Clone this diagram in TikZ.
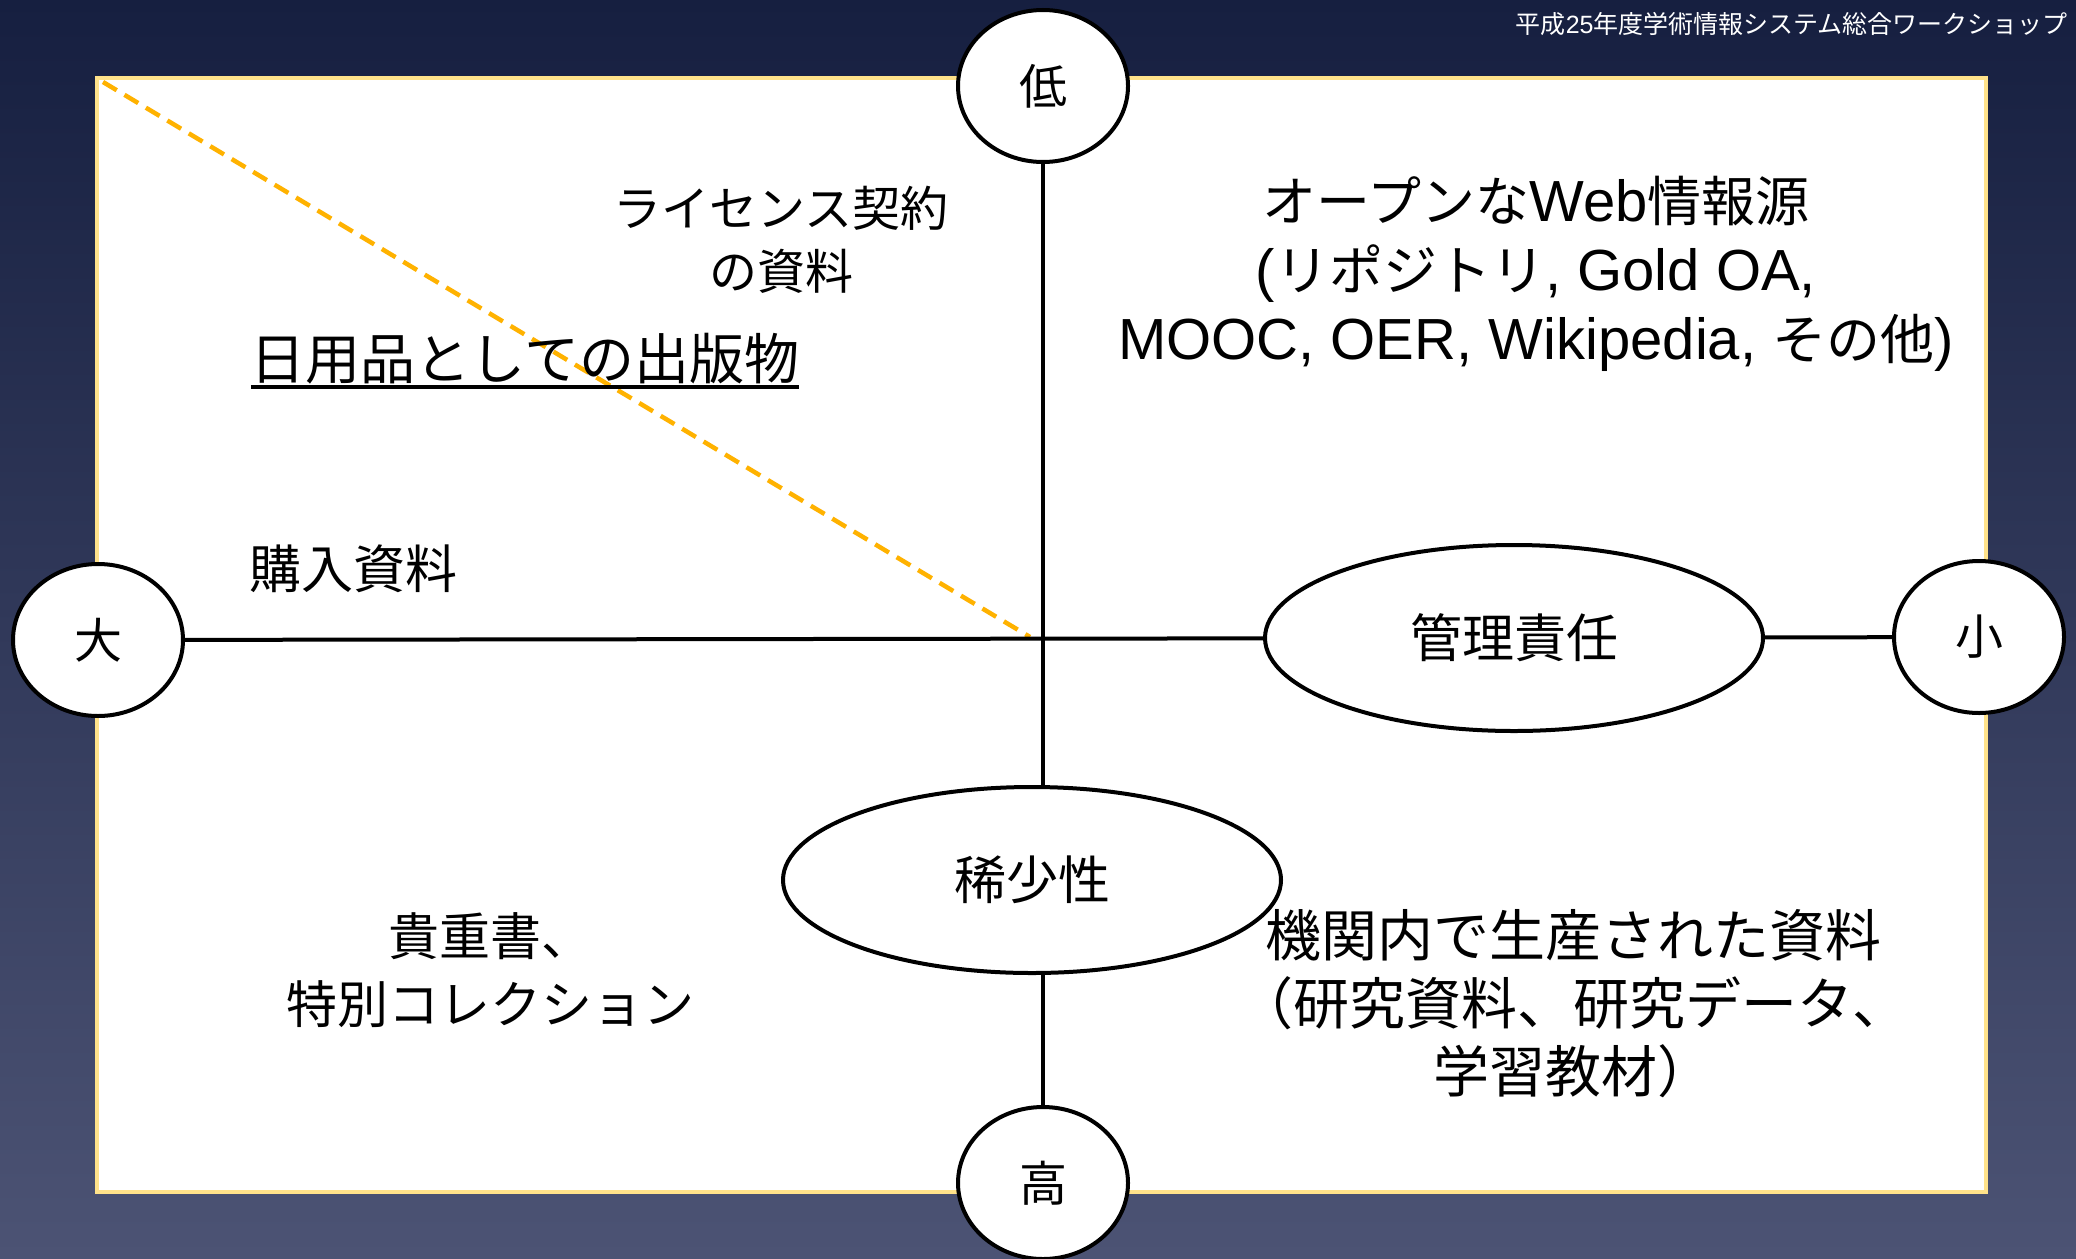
\documentclass[tikz,border=0pt]{standalone}
\usepackage{fontspec}
\setmainfont{Noto Sans CJK JP}
\newfontfamily\latf{Liberation Sans}
\newcommand\lat[1]{{\latf #1}}
\newcommand\latw[1]{{\latf\fontsize{58}{69}\selectfont #1}}
\usetikzlibrary{shapes.geometric}
\definecolor{bgtop}{RGB}{22,31,64}
\definecolor{bgbot}{RGB}{76,83,116}
\definecolor{frameyel}{RGB}{255,226,138}
\definecolor{dashor}{RGB}{255,178,0}
\newcommand\thickul[1]{\setbox0\hbox{#1}\leavevmode\rlap{\vrule height -6pt depth 9.5pt width \wd0}\box0}
\begin{document}
\begin{tikzpicture}[x=1pt,y=-1pt,
  circ/.style={ellipse, draw, line width=4pt, fill=white, minimum width=170pt, minimum height=152pt, inner sep=0pt, font=\fontsize{48}{48}\selectfont},
  oval/.style={ellipse, draw, line width=4pt, fill=white, minimum width=498pt, minimum height=186pt, inner sep=0pt, font=\fontsize{52}{52}\selectfont},
  lbl/.style={align=center, inner sep=0pt, font=\fontsize{52}{68}\selectfont},
  axis/.style={line width=4pt, black}]
\path[use as bounding box, top color=bgtop, bottom color=bgbot] (0,0) rectangle (2076,1258);
\node[anchor=east, text=white, inner sep=0pt, font=\fontsize{25}{25}\selectfont] (title) at (2068,24) {平成\lat{25}年度学術情報システム総合ワークショップ};
\draw[frameyel, line width=4pt, fill=white] (97,78) rectangle (1986,1192);
\coordinate (dstart) at (103,82);
\coordinate (dend) at (1030,637);
\draw[dashor, line width=4.5pt, dash pattern=on 16pt off 9pt] (dstart) -- (dend);
% labels
\node[lbl, font=\fontsize{48}{63}\selectfont] (lic) at (781,240) {ライセンス契約\\の資料};
\node[lbl, font=\fontsize{55}{55}\selectfont] (pub) at (525,361) {\thickul{日用品としての出版物}};
\node[lbl] (buy) at (353,569) {購入資料};
\node[lbl, font=\fontsize{54}{69}\selectfont] (web) at (1536,274) {オープンな\latw{Web}情報源\\\latw{(}リポジトリ\latw{, Gold OA,}\\\latw{MOOC, OER, Wikipedia, }その他\latw{)}};
\node[lbl, font=\fontsize{51}{68}\selectfont] (rarebk) at (490,970) {貴重書、\\特別コレクション};
\node[lbl, font=\fontsize{56}{68}\selectfont] (inst) at (1573,1004) {機関内で生産された資料\\（研究資料、研究データ、\\学習教材）};
% axes nodes
\node[circ] (low) at (1043,86) {低};
\node[circ] (high) at (1043,1183) {高};
\node[circ] (big) at (98,640) {大};
\node[circ] (small) at (1979,637) {小};
\node[oval] (resp) at (1514,638) {管理責任};
\node[oval] (rare) at (1032,880) {稀少性};
\draw[axis] (big) -- (resp);
\draw[axis] (resp) -- (small);
\draw[axis] (low) -- (low |- rare.north);
\draw[axis] (rare.south -| high) -- (high);
\end{tikzpicture}
\end{document}
